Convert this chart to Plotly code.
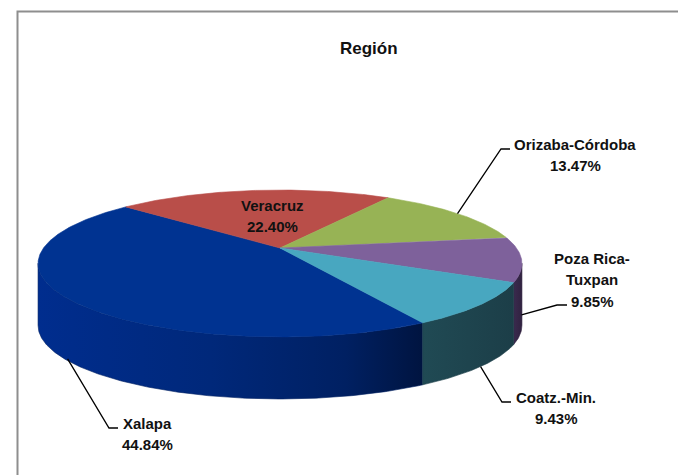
import numpy as np
import plotly.graph_objects as go

# ---------------- data ----------------
regions = ["Xalapa", "Veracruz", "Orizaba-Córdoba", "Poza Rica-Tuxpan", "Coatz.-Min."]
label_lines = [["Xalapa"], ["Veracruz"], ["Orizaba-Córdoba"], ["Poza Rica-", "Tuxpan"], ["Coatz.-Min."]]
shares = [44.84, 22.40, 13.47, 9.85, 9.43]
title_text = "Región"

# ---------------- style / geometry ----------------
top_colors = ["#003391", "#B94E49", "#97B355", "#7E619B", "#48A7C0"]
wall_scales = [
    [[0, "rgb(0,45,142)"], [0.45, "rgb(0,40,122)"], [0.8, "rgb(0,32,98)"], [1, "rgb(0,20,64)"]],
    [[0, "#7a2f2c"], [1, "#5a2220"]],
    [[0, "#5c7030"], [1, "#465624"]],
    [[0, "#3a2a4e"], [1, "#302240"]],
    [[0, "rgb(32,74,84)"], [1, "rgb(28,62,72)"]],
]
START = 150.5          # angle (deg, clockwise from far side) where first slice starts
CX, CY = 280.0, 248.0  # pixel position of pie centre
A, B = 236.5, 70.2     # semi axes of the projected disc
K = 0.211              # perspective factor
H = 62.0               # thickness of the pie
VIS_LO, VIS_HI = 102.0, 258.0  # visible range of the outer wall

# page body has an 8px margin; the axes are shifted so data units == window pixels
PAGE_OFF = 8
W, HGT = 686, 475

FONT = "Liberation Sans, Arial, sans-serif"


def proj(theta_deg, depth=0.0, r=1.0):
    t = np.radians(theta_deg)
    u = r * np.sin(t)
    v = r * np.cos(t)
    s = 1.0 / (1.0 + K * v)
    return CX + A * u * s, CY - B * v * s + depth


fig = go.Figure()

# compute slice angles from the shares
total = sum(shares)
bounds = []
a0 = START
for p in shares:
    a1 = a0 + 360.0 * p / total
    bounds.append((a0, a1))
    a0 = a1

# outer walls (only the visible, near-side part)
for i, (s0, s1) in enumerate(bounds):
    for off in (0.0, 360.0, -360.0):
        lo = max(s0 + off, VIS_LO)
        hi = min(s1 + off, VIS_HI)
        if hi > lo:
            th = np.linspace(lo, hi, max(int((hi - lo) * 2), 2))
            xt, yt = proj(th)
            xb, yb = proj(th[::-1], H)
            xs = np.concatenate([xt, xb, xt[:1]])
            ys = np.concatenate([yt, yb, yt[:1]])
            fig.add_trace(go.Scatter(
                x=xs, y=ys, mode="lines", fill="toself",
                line=dict(width=0.6, color=wall_scales[i][len(wall_scales[i]) // 2][1]),
                fillgradient=dict(type="horizontal", colorscale=wall_scales[i],
                                  start=float(xs.min()), stop=float(xs.max())),
                hoverinfo="skip", showlegend=False))

# top faces
for i, (s0, s1) in enumerate(bounds):
    th = np.linspace(s0, s1, max(int((s1 - s0) * 2), 2))
    xa, ya = proj(th)
    xs = np.concatenate([[CX], xa, [CX]])
    ys = np.concatenate([[CY], ya, [CY]])
    fig.add_trace(go.Scatter(
        x=xs, y=ys, mode="lines", fill="toself",
        fillcolor=top_colors[i], line=dict(width=0.6, color=top_colors[i]),
        name=regions[i], hoverinfo="name", showlegend=False))

# labels: centre x and first-line y (pixels)
label_pos = {
    "Xalapa": (147, 423),
    "Veracruz": (272, 205),
    "Orizaba-Córdoba": (575, 144),
    "Poza Rica-Tuxpan": (592, 258),
    "Coatz.-Min.": (556, 397),
}
LINE_STEP = 21.5
# leader lines: (wall depth fraction, elbow, end)
leaders = {
    "Xalapa": (0.97, (109, 428), (118, 428)),
    "Orizaba-Córdoba": (0.0, (501, 149), (510, 149)),
    "Poza Rica-Tuxpan": (0.9, (557, 305), (567, 305)),
    "Coatz.-Min.": (1.0, (502, 402), (511, 402)),
}

shapes = []
annotations = []
for i, name in enumerate(regions):
    s0, s1 = bounds[i]
    lines = label_lines[i] + [f"{shares[i]:.2f}%"]
    x, y = label_pos[name]
    for j, ln in enumerate(lines):
        annotations.append(dict(x=x, y=y + j * LINE_STEP, xref="x", yref="y", text=ln,
                                showarrow=False, xanchor="center", yanchor="middle",
                                font=dict(family=FONT, size=15, color="#111111", weight="bold")))
    if name in leaders:
        frac, el, en = leaders[name]
        mid = (s0 + s1) / 2.0
        px, py = proj(mid, H * frac)
        shapes.append(dict(type="path", xref="x", yref="y",
                           path=f"M {px:.1f},{py:.1f} L {el[0]},{el[1]} L {en[0]},{en[1]}",
                           line=dict(color="black", width=1.3)))

# chart border
shapes.append(dict(type="rect", xref="x", yref="y", x0=17.5, y0=11.5, x1=720, y1=520,
                   line=dict(color="#8e8e8e", width=2), layer="below"))

annotations.append(dict(x=369, y=48, xref="x", yref="y", text=title_text, showarrow=False,
                        xanchor="center", yanchor="middle",
                        font=dict(family=FONT, size=17, color="#111111", weight="bold")))

fig.update_layout(
    width=W - PAGE_OFF, height=HGT - PAGE_OFF,
    margin=dict(l=0, r=0, t=0, b=0),
    paper_bgcolor="white", plot_bgcolor="white",
    xaxis=dict(range=[PAGE_OFF, W], visible=False, fixedrange=True),
    yaxis=dict(range=[HGT, PAGE_OFF], visible=False, fixedrange=True),
    shapes=shapes, annotations=annotations,
    showlegend=False,
)

fig.write_html("out.html")
